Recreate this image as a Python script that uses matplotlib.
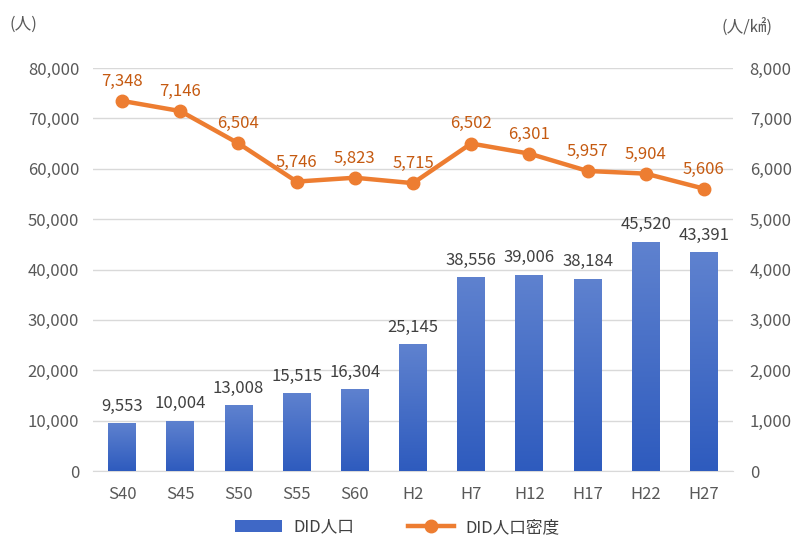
"""DID人口とDID人口密度の推移グラフ。"""
import numpy as np
import matplotlib
matplotlib.use("Agg")
import matplotlib.pyplot as plt
from matplotlib.colors import LinearSegmentedColormap
from matplotlib.lines import Line2D
from matplotlib.patches import Patch

plt.rcParams["font.family"] = ["Noto Sans CJK JP", "DejaVu Sans"]

# データ
categories = ["S40", "S45", "S50", "S55", "S60", "H2", "H7", "H12", "H17", "H22", "H27"]
population = [9553, 10004, 13008, 15515, 16304, 25145, 38556, 39006, 38184, 45520, 43391]
density = [7348, 7146, 6504, 5746, 5823, 5715, 6502, 6301, 5957, 5904, 5606]
left_ticks = [0, 10000, 20000, 30000, 40000, 50000, 60000, 70000, 80000]
right_ticks = [0, 1000, 2000, 3000, 4000, 5000, 6000, 7000, 8000]

TICK_COLOR = "#595959"
BAR_TOP = "#5F82CF"
BAR_BOTTOM = "#2E5BBE"
LINE_COLOR = "#ED7D31"
LINE_LABEL = "#C55A11"
FS = 12

fig = plt.figure(figsize=(7.95, 5.38), dpi=100)
ax = fig.add_axes([0.117, 0.1245, 0.805, 0.749])
ax2 = ax.twinx()

x = np.arange(len(categories))
bars = ax.bar(x, population, width=0.48, color=BAR_BOTTOM, zorder=2)

# グラデーション
cmap = LinearSegmentedColormap.from_list("grad", [BAR_BOTTOM, BAR_TOP])
grad = np.linspace(0, 1, 256).reshape(-1, 1)
for b in bars:
    x0, w, h = b.get_x(), b.get_width(), b.get_height()
    im = ax.imshow(grad, extent=[x0, x0 + w, 0, h], origin="lower", cmap=cmap,
                   aspect="auto", zorder=3)
    im.set_clip_path(b)

for xi, v in zip(x, population):
    ax.annotate(f"{v:,}", (xi, v), xytext=(0, 6), textcoords="offset points",
                ha="center", va="bottom", fontsize=FS, color="#404040")

ax.set_xlim(-0.5, len(categories) - 0.5)
ax.set_ylim(0, 80000)
ax.set_yticks(left_ticks)
ax.set_yticklabels([f"{t:,}" for t in left_ticks])
ax.set_xticks(x)
ax.set_xticklabels(categories)
ax.grid(axis="y", color="#D9D9D9", linewidth=1, zorder=0)
ax.set_axisbelow(True)
ax.tick_params(length=0, labelsize=FS, labelcolor=TICK_COLOR, pad=10)
ax.tick_params(axis="x", pad=11)
for s in ["top", "right", "left"]:
    ax.spines[s].set_visible(False)
ax.spines["bottom"].set_color("#D9D9D9")

ax2.plot(x, density, color=LINE_COLOR, linewidth=3.2, marker="o", markersize=9, zorder=4)
for xi, v in zip(x, density):
    ax2.annotate(f"{v:,}", (xi, v), xytext=(0, 8), textcoords="offset points",
                 ha="center", va="bottom", fontsize=FS, color=LINE_LABEL)
ax2.set_ylim(0, 8000)
ax2.set_yticks(right_ticks)
ax2.set_yticklabels([f"{t:,}" for t in right_ticks])
ax2.tick_params(length=0, labelsize=FS, labelcolor=TICK_COLOR, pad=12)
for s in ax2.spines.values():
    s.set_visible(False)

fig.text(0.012, 0.955, "(人)", fontsize=FS, color=TICK_COLOR, ha="left", va="center")
fig.text(0.972, 0.948, "(人/㎢)", fontsize=FS, color=TICK_COLOR, ha="right", va="center")

handles = [
    Patch(facecolor="#3F68C6", label="DID人口"),
    Line2D([0], [0], color=LINE_COLOR, linewidth=3.2, marker="o", markersize=9,
           label="DID人口密度"),
]
fig.legend(handles=handles, loc="center", bbox_to_anchor=(0.5, 0.02), ncol=2,
           frameon=False, fontsize=FS, handlelength=2.8, columnspacing=3.2,
           handletextpad=0.7, labelcolor="#404040")

fig.savefig("out.png", dpi=100)
